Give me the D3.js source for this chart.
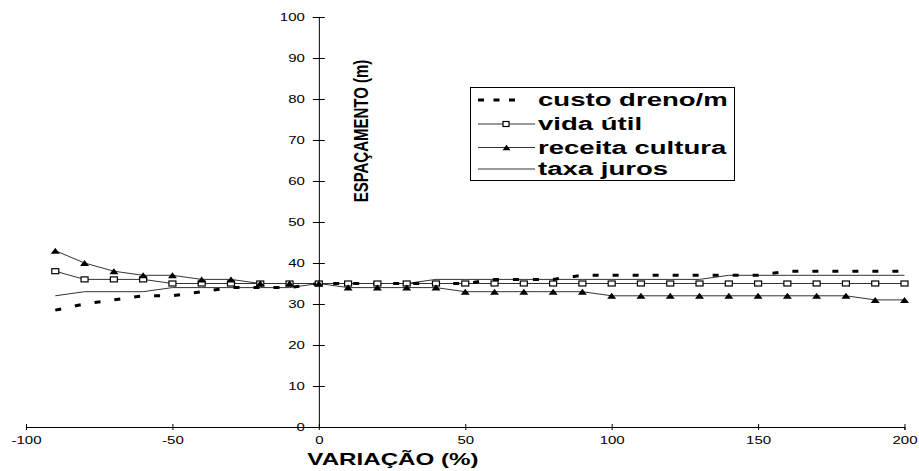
<!DOCTYPE html>
<html><head><meta charset="utf-8">
<script src="https://cdn.jsdelivr.net/npm/d3@7"></script>
<style>html,body{margin:0;padding:0;background:#fff}svg{display:block}</style>
</head><body>
<svg id="c" width="919" height="471"></svg>
<script>
const variacao = [-90,-80,-70,-60,-50,-40,-30,-20,-10,0,10,20,30,40,50,60,70,80,90,100,110,120,130,140,150,160,170,180,190,200];
const custoDreno = [28.5,30,31,32,32,33,34,34,34,35,35,35,35,35,35,36,36,36,37,37,37,37,37,37,37,38,38,38,38,38];
const vidaUtil = [38,36,36,36,35,35,35,35,35,35,35,35,35,35,35,35,35,35,35,35,35,35,35,35,35,35,35,35,35,35];
const receitaCultura = [43,40,38,37,37,36,36,35,35,35,34,34,34,34,33,33,33,33,33,32,32,32,32,32,32,32,32,32,31,31];
const taxaJuros = [32,33,33,33,34,34,34,34,34,35,35,35,35,36,36,36,36,36,36,36,36,36,36,37,37,37,37,37,37,37];
const seriesNames = ["custo dreno/m","vida útil","receita cultura","taxa juros"];
const xTicks = [-100,-50,0,50,100,150,200];
const yTicks = [0,10,20,30,40,50,60,70,80,90,100];
const xTitle = "VARIAÇÃO (%)";
const yTitle = "ESPAÇAMENTO (m)";

const FONT = "'Liberation Sans', Arial, Helvetica, sans-serif";
const svg = d3.select("#c");
const x = d3.scaleLinear().domain([-100,200]).range([26,904.5]);
const y = d3.scaleLinear().domain([0,100]).range([427,17]);

function stretch(sel, k){
  sel.each(function(){
    const w = this.getComputedTextLength();
    this.setAttribute("textLength", w*k);
    this.setAttribute("lengthAdjust","spacingAndGlyphs");
  });
}

// X axis
const gx = svg.append("g").attr("transform",`translate(0,${y(0)})`)
  .call(d3.axisBottom(x).tickValues(xTicks).tickSizeOuter(0).tickSize(3).tickFormat(d3.format("d")));
gx.select(".domain").attr("stroke","#000").attr("stroke-width",1);
gx.selectAll(".tick line").attr("y1",-3).attr("y2",3).attr("stroke","#000");
gx.selectAll(".tick text").attr("y",16.5).attr("dy",null).attr("font-family",FONT).attr("font-size",10).attr("fill","#000")
  .text(d=>d<0?"-"+Math.abs(d):d);
stretch(gx.selectAll(".tick text"),1.5);

// Y axis
const gy = svg.append("g").attr("transform",`translate(${x(0)},0)`)
  .call(d3.axisLeft(y).tickValues(yTicks).tickSizeOuter(0).tickSize(6));
gy.select(".domain").attr("stroke","#000").attr("stroke-width",1);
gy.selectAll(".tick line").attr("x1",-6).attr("x2",6).attr("stroke","#000");
gy.selectAll(".tick text").attr("x",-14).attr("dy","0.3em").attr("font-family",FONT).attr("font-size",10).attr("fill","#000");
stretch(gy.selectAll(".tick text"),1.5);

// Lines
const line = d3.line().x((d,i)=>x(variacao[i])).y(d=>y(d));
const plot = svg.append("g");
plot.append("path").datum(taxaJuros).attr("d",line).attr("fill","none").attr("stroke","#333").attr("stroke-width",1);
plot.append("path").datum(vidaUtil).attr("d",line).attr("fill","none").attr("stroke","#333").attr("stroke-width",1);
plot.append("path").datum(receitaCultura).attr("d",line).attr("fill","none").attr("stroke","#333").attr("stroke-width",1);
plot.append("path").datum(custoDreno).attr("d",line).attr("fill","none").attr("stroke","#000").attr("stroke-width",3)
  .attr("stroke-dasharray","6,14");

const tri = (cx,cy,w,h)=>`M${cx-w/2},${cy+h/2}L${cx},${cy-h/2}L${cx+w/2},${cy+h/2}Z`;
plot.selectAll("rect.vu").data(vidaUtil).enter().append("rect").attr("class","vu")
  .attr("x",(d,i)=>x(variacao[i])-3.5).attr("y",d=>y(d)-2.5).attr("width",7).attr("height",5)
  .attr("fill","#fff").attr("stroke","#000").attr("stroke-width",1.2);
plot.selectAll("path.rc").data(receitaCultura).enter().append("path").attr("class","rc")
  .attr("d",(d,i)=>tri(x(variacao[i]),y(d),9,6)).attr("fill","#000");

// Titles
const xt = svg.append("text").attr("x",393).attr("y",465).attr("text-anchor","middle")
  .attr("font-family",FONT).attr("font-weight","bold").attr("font-size",17).attr("fill","#000").text(xTitle);
stretch(xt,1.42);
svg.append("text").attr("transform","translate(368,131) scale(1.4,1) rotate(-90)").attr("text-anchor","middle")
  .attr("font-family",FONT).attr("font-weight","bold").attr("font-size",15).attr("fill","#000").text(yTitle);

// Legend
const lg = svg.append("g");
lg.append("rect").attr("x",470.5).attr("y",87.5).attr("width",264).attr("height",93).attr("fill","#fff").attr("stroke","#000").attr("stroke-width",1);
const rowY = [100,124,147.5,169];
lg.append("line").attr("x1",478).attr("x2",520).attr("y1",rowY[0]).attr("y2",rowY[0]).attr("stroke","#000").attr("stroke-width",3).attr("stroke-dasharray","6,9.5");
[1,2,3].forEach(k=>lg.append("line").attr("x1",478).attr("x2",535).attr("y1",rowY[k]).attr("y2",rowY[k]).attr("stroke","#333").attr("stroke-width",1));
lg.append("rect").attr("x",503).attr("y",rowY[1]-2.5).attr("width",6).attr("height",5).attr("fill","#fff").attr("stroke","#000").attr("stroke-width",1.2);
lg.append("path").attr("d",tri(506.5,rowY[2],8,5.5)).attr("fill","#000");
seriesNames.forEach((n,k)=>{
  const t = lg.append("text").attr("x",538).attr("y",rowY[k]+6).attr("font-family",FONT).attr("font-weight","bold")
    .attr("font-size",18).attr("fill","#000").text(n);
  stretch(t,1.53);
});
</script>
</body></html>
